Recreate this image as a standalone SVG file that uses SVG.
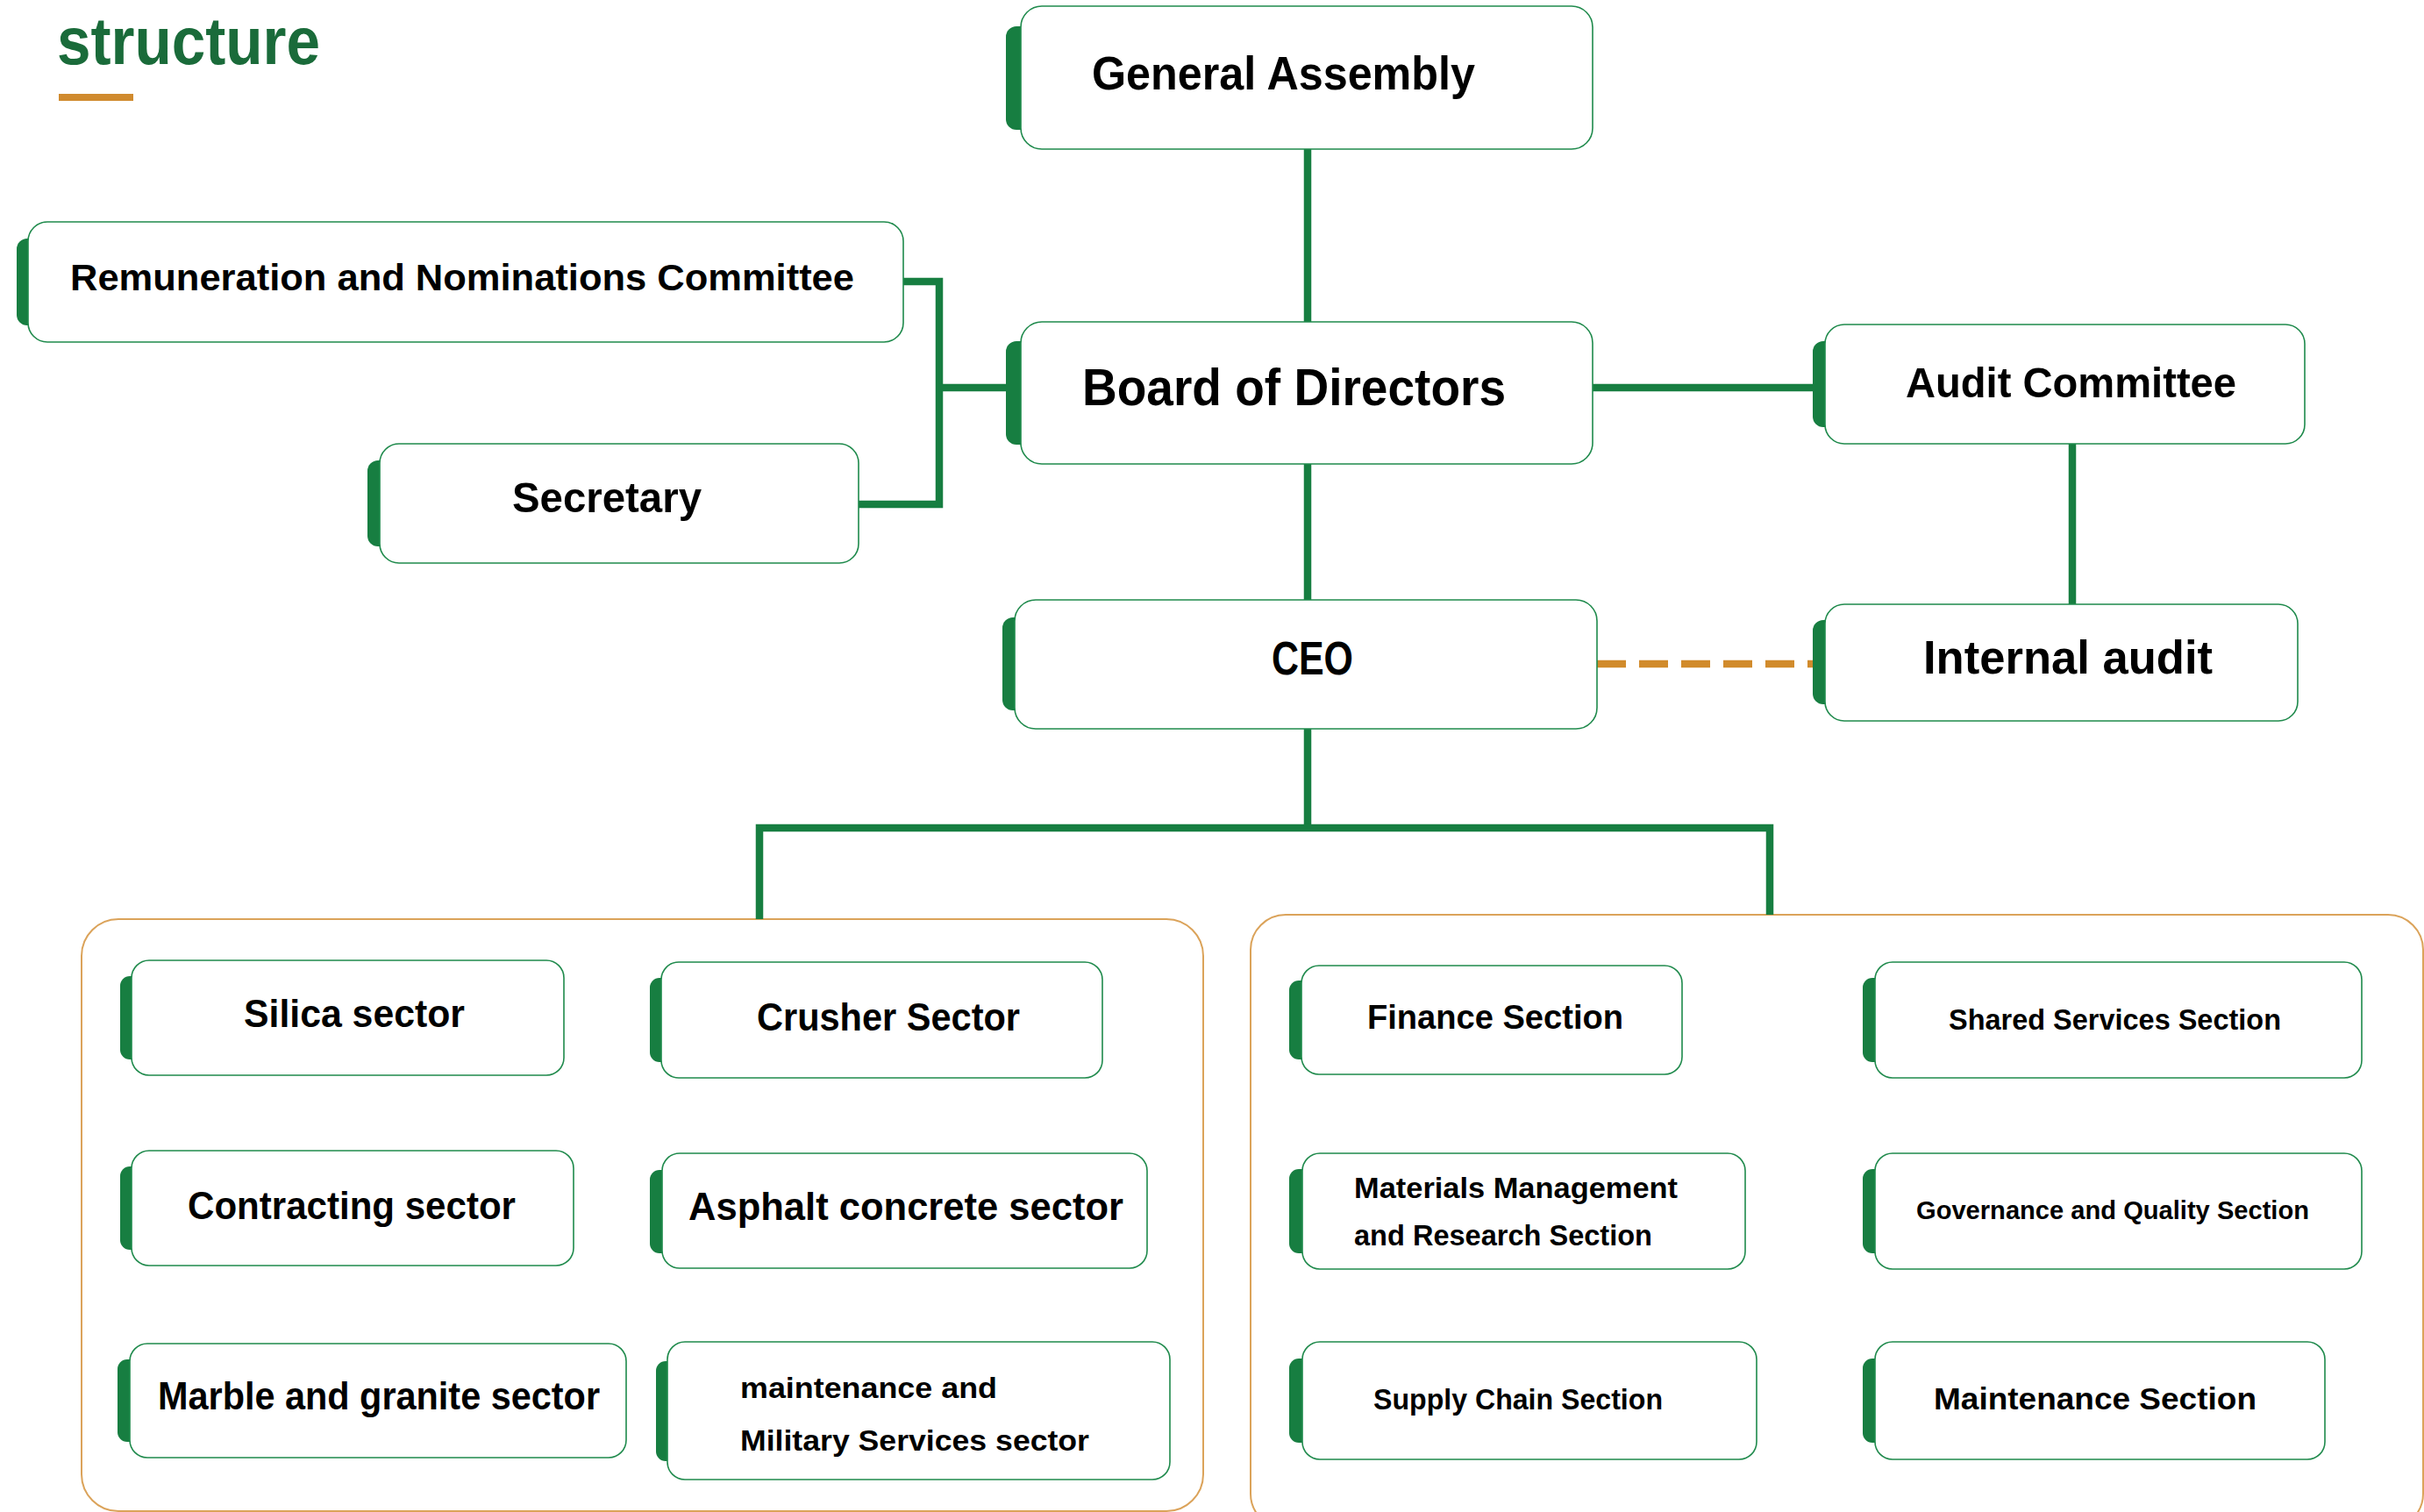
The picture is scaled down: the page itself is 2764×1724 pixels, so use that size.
<svg xmlns="http://www.w3.org/2000/svg" width="2764" height="1724" viewBox="0 0 2764 1724">
  <style>
    .box { fill: #ffffff; stroke: #1f8a4c; stroke-width: 1.6; }
    .accent { fill: #177e41; }
    .lbl { font-family: "Liberation Sans", Arial, sans-serif; font-weight: 700; fill: #000000; }
    .conn { fill: none; stroke: #177e41; stroke-width: 8.5; stroke-linejoin: miter; stroke-linecap: butt; }
    .dash { fill: none; stroke: #d18b2c; stroke-width: 8.5; stroke-dasharray: 33 15; }
    .panel { fill: none; stroke: #dba35a; stroke-width: 2; }
  </style>

  <rect width="2764" height="1724" fill="#ffffff"/>

  <!-- heading -->
  <g id="heading">
    <text x="65" y="73" font-family="Liberation Sans, Arial, sans-serif" font-weight="700" font-size="76" fill="#1a6b3a" textLength="300" lengthAdjust="spacingAndGlyphs">structure</text>
    <rect x="67" y="107" width="85" height="8" fill="#d08a2e"/>
  </g>

  <!-- grouping panels -->
  <g id="panels">
    <rect class="panel" x="93" y="1048" width="1279" height="675" rx="42"/>
    <rect class="panel" x="1426" y="1043" width="1337" height="700" rx="40"/>
  </g>

  <!-- connectors -->
  <g id="connectors">
    <path class="conn" d="M1491 170 V367"/>
    <path class="conn" d="M1491 529 V684"/>
    <path class="conn" d="M1816 442 H2067"/>
    <path class="conn" d="M2363 506 V689"/>
    <path class="conn" d="M1030 321 H1071 V575 H979"/>
    <path class="conn" d="M1071 442 H1147"/>
    <path class="conn" d="M1491 831 V944"/>
    <path class="conn" d="M866 1048 V944 H2018 V1043"/>
    <path class="dash" d="M1821 757 H2067"/>
  </g>

  <!-- top governance -->
  <g id="general-assembly">
    <rect class="accent" x="1147" y="30" width="40" height="118" rx="12"/>
    <rect class="box" x="1164" y="7" width="652" height="163" rx="24"/>
    <text class="lbl" x="1245" y="102" font-size="54" textLength="437" lengthAdjust="spacingAndGlyphs">General Assembly</text>
  </g>

  <g id="board-of-directors">
    <rect class="accent" x="1147" y="389" width="40" height="118" rx="12"/>
    <rect class="box" x="1164" y="367" width="652" height="162" rx="24"/>
    <text class="lbl" x="1234" y="462" font-size="59" textLength="483" lengthAdjust="spacingAndGlyphs">Board of Directors</text>
  </g>

  <g id="ceo">
    <rect class="accent" x="1143" y="704" width="40" height="106" rx="12"/>
    <rect class="box" x="1157" y="684" width="664" height="147" rx="24"/>
    <text class="lbl" x="1450" y="769" font-size="53" textLength="93" lengthAdjust="spacingAndGlyphs">CEO</text>
  </g>

  <g id="audit-committee">
    <rect class="accent" x="2067" y="389" width="40" height="98" rx="12"/>
    <rect class="box" x="2081" y="370" width="547" height="136" rx="22"/>
    <text class="lbl" x="2173" y="453" font-size="49" textLength="377" lengthAdjust="spacingAndGlyphs">Audit Committee</text>
  </g>

  <g id="internal-audit">
    <rect class="accent" x="2067" y="707" width="40" height="96" rx="12"/>
    <rect class="box" x="2081" y="689" width="539" height="133" rx="22"/>
    <text class="lbl" x="2193" y="768" font-size="54" textLength="330" lengthAdjust="spacingAndGlyphs">Internal audit</text>
  </g>

  <g id="remuneration-committee">
    <rect class="accent" x="19" y="272" width="40" height="99" rx="12"/>
    <rect class="box" x="32" y="253" width="998" height="137" rx="22"/>
    <text class="lbl" x="80" y="331" font-size="43" textLength="894" lengthAdjust="spacingAndGlyphs">Remuneration and Nominations Committee</text>
  </g>

  <g id="secretary">
    <rect class="accent" x="419" y="525" width="40" height="98" rx="12"/>
    <rect class="box" x="433" y="506" width="546" height="136" rx="22"/>
    <text class="lbl" x="584" y="584" font-size="49" textLength="216" lengthAdjust="spacingAndGlyphs">Secretary</text>
  </g>

  <!-- sectors -->
  <g id="silica-sector">
    <rect class="accent" x="137" y="1113" width="40" height="95" rx="11"/>
    <rect class="box" x="150" y="1095" width="493" height="131" rx="20"/>
    <text class="lbl" x="278" y="1171" font-size="45" textLength="252" lengthAdjust="spacingAndGlyphs">Silica sector</text>
  </g>

  <g id="crusher-sector">
    <rect class="accent" x="741" y="1115" width="40" height="96" rx="11"/>
    <rect class="box" x="754" y="1097" width="503" height="132" rx="20"/>
    <text class="lbl" x="863" y="1175" font-size="45" textLength="300" lengthAdjust="spacingAndGlyphs">Crusher Sector</text>
  </g>

  <g id="contracting-sector">
    <rect class="accent" x="137" y="1330" width="40" height="95" rx="11"/>
    <rect class="box" x="150" y="1312" width="504" height="131" rx="20"/>
    <text class="lbl" x="214" y="1390" font-size="44" textLength="374" lengthAdjust="spacingAndGlyphs">Contracting sector</text>
  </g>

  <g id="asphalt-concrete-sector">
    <rect class="accent" x="741" y="1334" width="40" height="95" rx="11"/>
    <rect class="box" x="755" y="1315" width="553" height="131" rx="20"/>
    <text class="lbl" x="785" y="1391" font-size="44" textLength="496" lengthAdjust="spacingAndGlyphs">Asphalt concrete sector</text>
  </g>

  <g id="marble-granite-sector">
    <rect class="accent" x="134" y="1550" width="40" height="94" rx="11"/>
    <rect class="box" x="148" y="1532" width="566" height="130" rx="20"/>
    <text class="lbl" x="180" y="1607" font-size="44" textLength="504" lengthAdjust="spacingAndGlyphs">Marble and granite sector</text>
  </g>

  <g id="maintenance-military-sector">
    <rect class="accent" x="748" y="1552" width="40" height="114" rx="11"/>
    <rect class="box" x="761" y="1530" width="573" height="157" rx="20"/>
    <text class="lbl" x="844" y="1594" font-size="34" textLength="293" lengthAdjust="spacingAndGlyphs">maintenance and</text>
    <text class="lbl" x="844" y="1654" font-size="34" textLength="398" lengthAdjust="spacingAndGlyphs">Military Services sector</text>
  </g>

  <!-- sections -->
  <g id="finance-section">
    <rect class="accent" x="1470" y="1118" width="40" height="90" rx="11"/>
    <rect class="box" x="1484" y="1101" width="434" height="124" rx="20"/>
    <text class="lbl" x="1559" y="1173" font-size="39" textLength="292" lengthAdjust="spacingAndGlyphs">Finance Section</text>
  </g>

  <g id="shared-services-section">
    <rect class="accent" x="2124" y="1115" width="40" height="96" rx="11"/>
    <rect class="box" x="2138" y="1097" width="555" height="132" rx="20"/>
    <text class="lbl" x="2222" y="1174" font-size="34" textLength="379" lengthAdjust="spacingAndGlyphs">Shared Services Section</text>
  </g>

  <g id="materials-research-section">
    <rect class="accent" x="1470" y="1333" width="40" height="96" rx="11"/>
    <rect class="box" x="1485" y="1315" width="505" height="132" rx="20"/>
    <text class="lbl" x="1544" y="1366" font-size="34" textLength="369" lengthAdjust="spacingAndGlyphs">Materials Management</text>
    <text class="lbl" x="1544" y="1420" font-size="34" textLength="340" lengthAdjust="spacingAndGlyphs">and Research Section</text>
  </g>

  <g id="governance-quality-section">
    <rect class="accent" x="2124" y="1333" width="40" height="96" rx="11"/>
    <rect class="box" x="2138" y="1315" width="555" height="132" rx="20"/>
    <text class="lbl" x="2185" y="1390" font-size="29" textLength="448" lengthAdjust="spacingAndGlyphs">Governance and Quality Section</text>
  </g>

  <g id="supply-chain-section">
    <rect class="accent" x="1470" y="1549" width="40" height="96" rx="11"/>
    <rect class="box" x="1485" y="1530" width="518" height="134" rx="20"/>
    <text class="lbl" x="1566" y="1607" font-size="33" textLength="330" lengthAdjust="spacingAndGlyphs">Supply Chain Section</text>
  </g>

  <g id="maintenance-section">
    <rect class="accent" x="2124" y="1549" width="40" height="96" rx="11"/>
    <rect class="box" x="2138" y="1530" width="513" height="134" rx="20"/>
    <text class="lbl" x="2205" y="1607" font-size="35" textLength="368" lengthAdjust="spacingAndGlyphs">Maintenance Section</text>
  </g>
</svg>
